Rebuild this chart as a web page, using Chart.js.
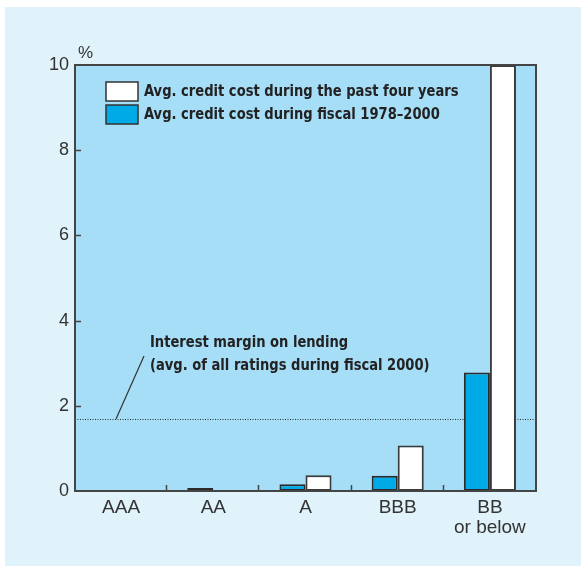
<!DOCTYPE html>
<html>
<head>
<meta charset="utf-8">
<script src="https://cdn.jsdelivr.net/npm/chart.js@4.4.0/dist/chart.umd.min.js"></script>
<style>
  html, body { margin: 0; padding: 0; background: #ffffff; }
  canvas { display: block; }
</style>
</head>
<body>
<canvas id="chart" width="581" height="569"></canvas>
<script>
// ratings and credit cost (%)
const categories = ['AAA', 'AA', 'A', 'BBB', ['BB', 'or below']];
const pastFourYears = [0, 0, 0.37, 1.07, 10];
const fiscal1978to2000 = [0, 0.07, 0.16, 0.36, 2.78];
const interestMargin = 1.69;
const yTicks = [0, 2, 4, 6, 8, 10];
const seriesLabels = [
  'Avg. credit cost during the past four years',
  'Avg. credit cost during fiscal 1978\u20132000'
];
const marginNote = ['Interest margin on lending', '(avg. of all ratings during fiscal 2000)'];

const BLUE = '#00aae6';
const PLOT_BG = '#a6ddf7';
const PANEL_BG = '#e0f2fa';
const INK = '#333333';
const BOLD_FONT = 'bold 16px "Liberation Sans Narrow", "DejaVu Sans Condensed", sans-serif';

// condensed bold text: squeeze the condensed face a little more
function narrowText(c, text, x, y) {
  c.save();
  c.translate(x, y);
  c.scale(0.91, 1);
  c.fillStyle = '#222';
  c.font = BOLD_FONT;
  c.textBaseline = 'middle';
  c.fillText(text, 0, 0);
  c.restore();
}

// backgrounds, frame, ticks, legend and the margin line
const decor = {
  id: 'decor',
  beforeDraw(chart) {
    const c = chart.ctx, a = chart.chartArea;
    c.save();
    c.fillStyle = '#ffffff';
    c.fillRect(0, 0, chart.width, chart.height);
    c.fillStyle = PANEL_BG;
    c.fillRect(5, 7, chart.width - 5, chart.height - 10);
    c.fillStyle = PLOT_BG;
    c.fillRect(a.left, a.top, a.right - a.left, a.bottom - a.top);
    c.restore();
  },
  beforeDatasetsDraw(chart) {
    const c = chart.ctx, a = chart.chartArea, y = chart.scales.y;
    const ym = y.getPixelForValue(interestMargin);
    c.save();
    // dotted margin line
    c.strokeStyle = '#333';
    c.lineWidth = 1;
    c.setLineDash([1, 1.5]);
    c.beginPath();
    c.moveTo(a.left, ym + 0.5);
    c.lineTo(a.right, ym + 0.5);
    c.stroke();
    c.setLineDash([]);
    // leader line to the note
    c.lineWidth = 1.2;
    c.beginPath();
    c.moveTo(a.left + 41, ym);
    c.lineTo(a.left + 69, y.getPixelForValue(3.17));
    c.stroke();
    c.restore();
    narrowText(c, marginNote[0], a.left + 75, y.getPixelForValue(3.47));
    narrowText(c, marginNote[1], a.left + 75, y.getPixelForValue(2.94));
  },
  afterDatasetsDraw(chart) {
    const c = chart.ctx, a = chart.chartArea, y = chart.scales.y;
    c.save();
    c.strokeStyle = '#454545';
    c.lineWidth = 2;
    c.strokeRect(a.left, a.top, a.right - a.left, a.bottom - a.top);
    // inward y ticks
    c.lineWidth = 1.5;
    yTicks.forEach(v => {
      if (v === 0 || v === 10) return;
      const py = Math.round(y.getPixelForValue(v)) + 0.5;
      c.beginPath();
      c.moveTo(a.left, py);
      c.lineTo(a.left + 6, py);
      c.stroke();
    });
    // category separators on the x axis
    const step = (a.right - a.left) / categories.length;
    for (let i = 1; i < categories.length; i++) {
      const px = Math.round(a.left + i * step) - 0.5;
      c.beginPath();
      c.moveTo(px, a.bottom);
      c.lineTo(px, a.bottom - 6);
      c.stroke();
    }
    // % unit
    c.fillStyle = INK;
    c.font = '17px "Liberation Sans", Arial, sans-serif';
    c.textBaseline = 'middle';
    c.fillText('%', a.left + 3, a.top - 12);
    // legend (white series listed first)
    const rows = [1, 0];
    rows.forEach((di, r) => {
      const ds = chart.data.datasets[di];
      const top = a.top + 17 + r * 23;
      c.fillStyle = ds.backgroundColor;
      c.fillRect(a.left + 31, top, 32, 19);
      c.strokeStyle = '#333';
      c.lineWidth = 1.5;
      c.strokeRect(a.left + 31, top, 32, 19);
      narrowText(c, ds.label, a.left + 69, top + 10);
    });
    c.restore();
  }
};

const zeroless = ctx => (ctx.raw === 0 ? 0 : 2);

new Chart(document.getElementById('chart'), {
  type: 'bar',
  data: {
    labels: categories,
    datasets: [
      {
        label: seriesLabels[1],
        data: fiscal1978to2000,
        backgroundColor: BLUE,
        borderColor: '#2b2b2b',
        borderWidth: zeroless,
        borderSkipped: false
      },
      {
        label: seriesLabels[0],
        data: pastFourYears,
        backgroundColor: '#ffffff',
        borderColor: '#3a3a3a',
        borderWidth: zeroless,
        borderSkipped: false
      }
    ]
  },
  options: {
    responsive: false,
    animation: false,
    layout: { padding: { top: 65, right: 45, left: 0, bottom: 0 } },
    categoryPercentage: 0.565,
    barPercentage: 1,
    plugins: {
      legend: { display: false },
      tooltip: { enabled: false }
    },
    scales: {
      x: {
        grid: { display: false, drawTicks: false },
        border: { display: false },
        ticks: {
          color: INK,
          padding: 7,
          maxRotation: 0,
          font: { family: '"Liberation Sans", Arial, sans-serif', size: 19, lineHeight: 1.05 }
        },
        afterFit(s) { s.height = 78; }
      },
      y: {
        min: 0,
        max: 10,
        grid: { display: false, drawTicks: false },
        border: { display: false },
        afterBuildTicks(s) { s.ticks = yTicks.map(v => ({ value: v })); },
        ticks: {
          color: INK,
          padding: 6,
          font: { family: '"Liberation Sans", Arial, sans-serif', size: 18 }
        },
        afterFit(s) { s.width = 75; }
      }
    }
  },
  plugins: [decor]
});
</script>
</body>
</html>
